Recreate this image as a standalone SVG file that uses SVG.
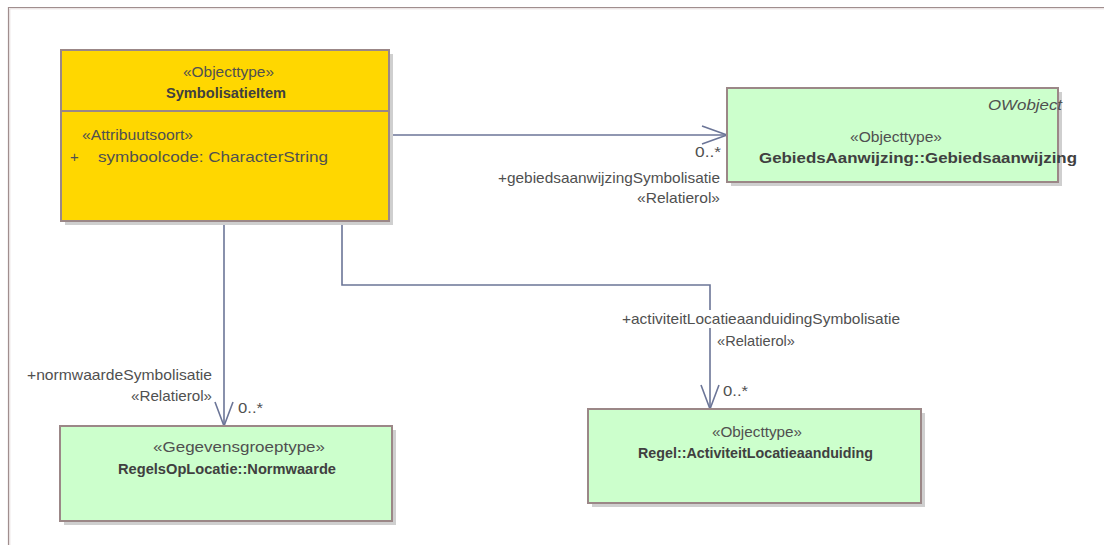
<svg xmlns="http://www.w3.org/2000/svg" width="1104" height="545" viewBox="0 0 1104 545">
<style>
text{font-family:"Liberation Sans",Arial,sans-serif;fill:#505050;font-size:15px}
.b{font-weight:bold;fill:#404040;font-size:14.5px}
.i{font-style:italic}
.box{stroke:#9B8787;stroke-width:2}
.yel{fill:#FFD700}
.grn{fill:#CCFFCC}
.sh{fill:#CFCFCF}
.con{fill:none;stroke:#6B7597;stroke-width:1.6}
</style>
<rect width="1104" height="545" fill="#fff"/>
<path d="M8.5,545 V7.5 H1104" fill="none" stroke="#A08E8E" stroke-width="1.2"/>
<path d="M9.8,545 V8.8 H1104" fill="none" stroke="#E4DADA" stroke-width="1"/>

<g id="connectors">
<path class="con" d="M389,135 H727"/>
<path class="con" d="M702,126 L727,135 L702,144"/>
<path class="con" d="M224,221 V426"/>
<path class="con" d="M215,402 L224,426 L233,402"/>
<path class="con" d="M342,221 V285 H710 V409"/>
<path class="con" d="M701,385 L710,409 L719,385"/>
<text x="695" y="157" textLength="26" lengthAdjust="spacingAndGlyphs">0..*</text>
<text x="498" y="183" textLength="222" lengthAdjust="spacingAndGlyphs">+gebiedsaanwijzingSymbolisatie</text>
<text x="637" y="203" textLength="83" lengthAdjust="spacingAndGlyphs">«Relatierol»</text>
<text x="27" y="380" textLength="185" lengthAdjust="spacingAndGlyphs">+normwaardeSymbolisatie</text>
<text x="131" y="401" textLength="81" lengthAdjust="spacingAndGlyphs">«Relatierol»</text>
<text x="238" y="413" textLength="25" lengthAdjust="spacingAndGlyphs">0..*</text>
<rect x="619" y="310" width="284" height="18" fill="#fff"/>
<text x="622" y="324" textLength="278" lengthAdjust="spacingAndGlyphs">+activiteitLocatieaanduidingSymbolisatie</text>
<text x="717" y="346" textLength="78" lengthAdjust="spacingAndGlyphs">«Relatierol»</text>
<text x="723" y="396" textLength="25" lengthAdjust="spacingAndGlyphs">0..*</text>
</g>

<g id="SymbolisatieItem">
<rect class="sh" x="65" y="54" width="328" height="171"/>
<rect class="box yel" x="61" y="50" width="328" height="171"/>
<line class="box" x1="61" y1="111" x2="389" y2="111"/>
<text x="183" y="77" textLength="91" lengthAdjust="spacingAndGlyphs">«Objecttype»</text>
<text class="b" x="166" y="98" textLength="120" lengthAdjust="spacingAndGlyphs">SymbolisatieItem</text>
<text x="82" y="140" textLength="111" lengthAdjust="spacingAndGlyphs">«Attribuutsoort»</text>
<text x="70" y="162">+</text>
<text x="98" y="162" textLength="230" lengthAdjust="spacingAndGlyphs">symboolcode: CharacterString</text>
</g>

<g id="Gebiedsaanwijzing">
<rect class="sh" x="731" y="92" width="331" height="94"/>
<rect class="box grn" x="727" y="88" width="331" height="94"/>
<text class="i" x="988" y="110" textLength="74" lengthAdjust="spacingAndGlyphs">OWobject</text>
<text x="850" y="142" textLength="92" lengthAdjust="spacingAndGlyphs">«Objecttype»</text>
<text class="b" x="759" y="163" textLength="318" lengthAdjust="spacingAndGlyphs">GebiedsAanwijzing::Gebiedsaanwijzing</text>
</g>

<g id="Normwaarde">
<rect class="sh" x="64" y="430" width="332" height="95"/>
<rect class="box grn" x="60" y="426" width="332" height="95"/>
<text x="153" y="452" textLength="172" lengthAdjust="spacingAndGlyphs">«Gegevensgroeptype»</text>
<text class="b" x="118" y="474" textLength="218" lengthAdjust="spacingAndGlyphs">RegelsOpLocatie::Normwaarde</text>
</g>

<g id="ActiviteitLocatieaanduiding">
<rect class="sh" x="592" y="413" width="333" height="94"/>
<rect class="box grn" x="588" y="409" width="333" height="94"/>
<text x="712" y="437" textLength="90" lengthAdjust="spacingAndGlyphs">«Objecttype»</text>
<text class="b" x="638" y="458" textLength="235" lengthAdjust="spacingAndGlyphs">Regel::ActiviteitLocatieaanduiding</text>
</g>
</svg>
